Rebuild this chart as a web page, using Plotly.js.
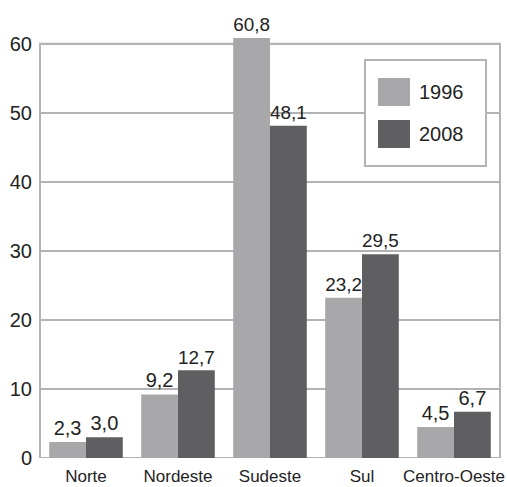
<!DOCTYPE html>
<html><head><meta charset="utf-8">
<script src="https://cdn.plot.ly/plotly-3.0.1.min.js"></script>
<style>html,body{margin:0;padding:0;background:#fff;}</style>
</head><body>
<div id="chart" style="width:507px;height:487px;"></div>
<script>
var categories = ["Norte", "Nordeste", "Sudeste", "Sul", "Centro-Oeste"];
var values1996 = [2.3, 9.2, 60.8, 23.2, 4.5];
var values2008 = [3.0, 12.7, 48.1, 29.5, 6.7];
var seriesNames = ["1996", "2008"];
var seriesColors = ["#a8a8ab", "#5f5f62"];
var yTicks = [0, 10, 20, 30, 40, 50, 60];
var frameTop = 60;

var W = 507, H = 487, M = {l: 40, r: 7, t: 16, b: 29, pad: 0};
var plotW = W - M.l - M.r, plotH = H - M.t - M.b;
function px(x) { return (x - M.l) / plotW; }
function py(y) { return (H - M.b - y) / plotH; }

var gray = "#b3b3b5";
var textColor = "#232323";
var textFont = {family: "Liberation Sans, Arial, sans-serif", size: 20, color: textColor};

var traces = seriesNames.map(function (name, i) {
  var vals = i === 0 ? values1996 : values2008;
  return {type: "bar", name: name, x: categories, y: vals,
    marker: {color: seriesColors[i]}, texttemplate: "%{y:.1f}",
    textposition: "outside", cliponaxis: false, textfont: textFont, hoverinfo: "none"};
});

// legend drawn as shapes + annotations (box with large swatches)
var shapes = [
  {type: "rect", xref: "paper", yref: "y", x0: 0, x1: 1, y0: 0, y1: frameTop,
   line: {color: gray, width: 2}, fillcolor: "rgba(0,0,0,0)", layer: "below"},
  {type: "rect", xref: "paper", yref: "paper", x0: px(365), x1: px(486), y0: py(166), y1: py(60),
   line: {color: gray, width: 2}, fillcolor: "#fff", layer: "above"}
];
var annotations = [];
var rowCenters = [92, 134];
seriesNames.forEach(function (name, i) {
  var c = rowCenters[i];
  shapes.push({type: "rect", xref: "paper", yref: "paper", x0: px(378), x1: px(410),
    y0: py(c + 14), y1: py(c - 14), line: {width: 0}, fillcolor: seriesColors[i], layer: "above"});
  annotations.push({xref: "paper", yref: "paper", x: px(417), y: py(c), xanchor: "left", yanchor: "middle",
    text: name, showarrow: false, font: {family: "Liberation Sans, Arial, sans-serif", size: 20, color: textColor}});
});

var layout = {
  width: W, height: H, margin: M,
  separators: ",.",
  barmode: "group", bargap: 0.2, bargroupgap: 0,
  paper_bgcolor: "#fff", plot_bgcolor: "#fff",
  font: {family: "Liberation Sans, Arial, sans-serif", color: textColor},
  showlegend: false,
  xaxis: {type: "category", showline: false, ticks: "", ticklabelstandoff: 6,
          tickfont: {family: "Liberation Sans, Arial, sans-serif", size: 17, color: textColor},
          showgrid: false, fixedrange: true},
  yaxis: {range: [0, 64], tickvals: yTicks, showline: false,
          showgrid: true, gridcolor: gray, gridwidth: 2, zeroline: false, ticks: "",
          ticklabelstandoff: 7,
          tickfont: {family: "Liberation Sans, Arial, sans-serif", size: 20, color: textColor}, fixedrange: true},
  shapes: shapes,
  annotations: annotations
};
Plotly.newPlot("chart", traces, layout, {displayModeBar: false, staticPlot: true});
</script>
</body></html>
